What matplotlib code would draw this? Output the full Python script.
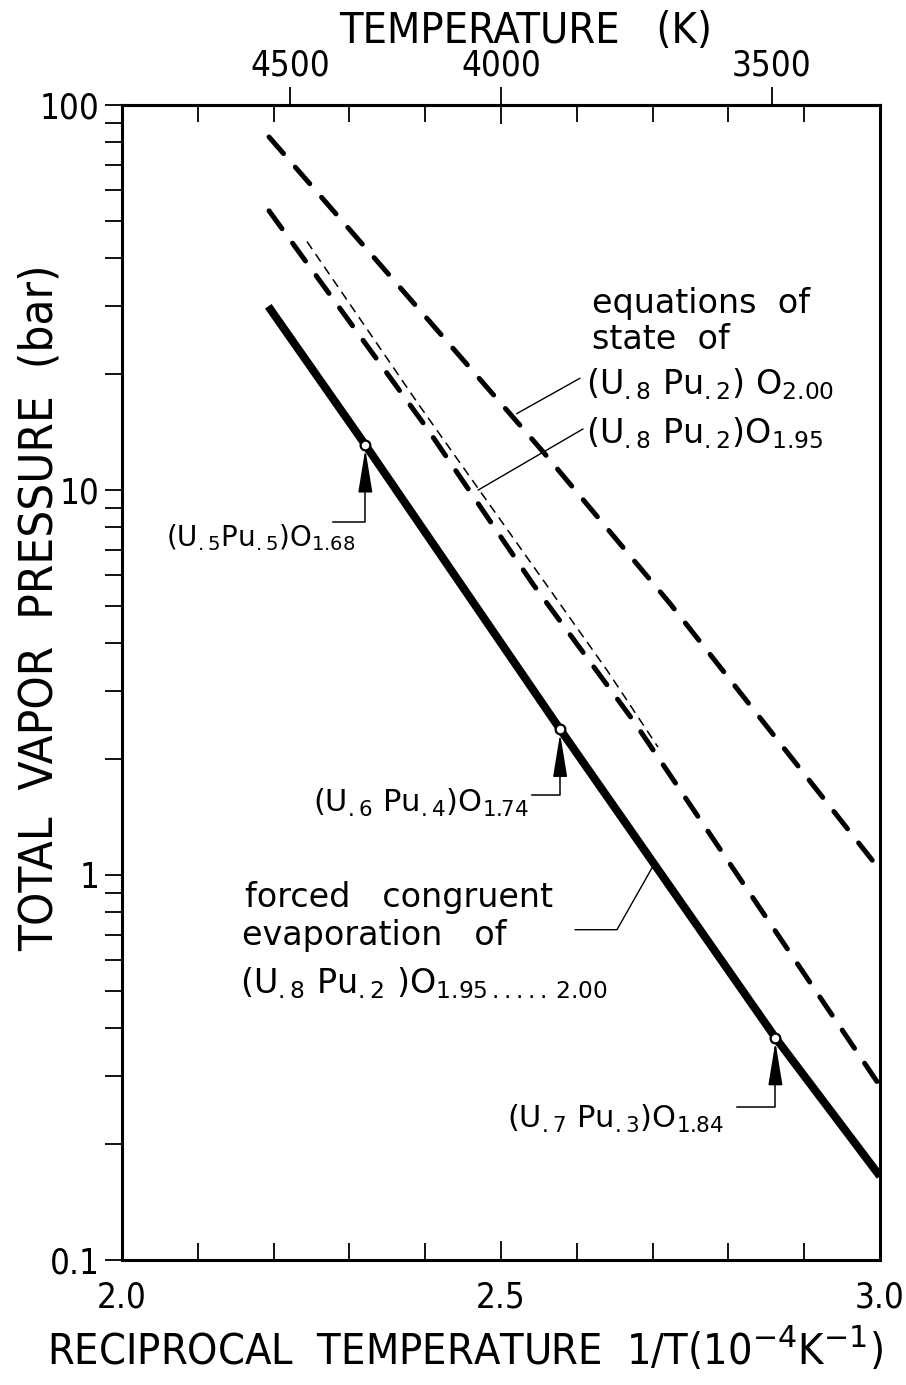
import matplotlib
matplotlib.use("Agg")
import matplotlib.pyplot as plt
from matplotlib.ticker import FixedLocator, LogLocator, NullFormatter

plt.rcParams['mathtext.fontset'] = 'dejavusans'
plt.rcParams['font.family'] = ['DejaVu Sans']

# reciprocal temperature (1e-4 1/K) and total vapour pressure (bar)
x_forced = [2.193, 2.321, 2.578, 2.862, 3.0]
p_forced = [30.0, 13.1, 2.39, 0.378, 0.165]
x_eos200 = [2.194, 2.555, 2.723, 3.0]
p_eos200 = [82.6, 12.6, 5.07, 1.03]
x_eos195 = [2.194, 2.402, 2.542, 2.675, 3.0]
p_eos195 = [53.1, 14.5, 5.70, 2.51, 0.283]
x_thin = [2.244, 2.393, 2.640, 2.707]
p_thin = [44.2, 16.5, 3.40, 2.15]

# labelled compositions on the forced congruent curve (index into x_forced)
point_idx = [1, 2, 3]
point_labels = [r'(U$_{.5}$Pu$_{.5}$)O$_{1.68}$',
                r'(U$_{.6}$ Pu$_{.4}$)O$_{1.74}$',
                r'(U$_{.7}$ Pu$_{.3}$)O$_{1.84}$']

y_ticks = [0.1, 1, 10, 100]
y_ticklabels = ['0.1', '1', '10', '100']
x_ticks = [2.0, 2.5, 3.0]
x_ticklabels = ['2.0', '2.5', '3.0']
t_ticks = [4500, 4000, 3500]

cond = dict(family='DejaVu Sans', stretch='condensed')

fig = plt.figure(figsize=(9.06, 13.85), dpi=100)
ax = fig.add_axes([122/906, 1 - 1260/1385, 758/906, 1155/1385])

ax.plot(x_forced, p_forced, color='black', lw=5.8, solid_capstyle='butt')
ax.plot(x_eos200, p_eos200, color='black', lw=3.6, dashes=(4.4, 3.6), dash_capstyle='round')
ax.plot(x_eos195, p_eos195, color='black', lw=3.6, dashes=(4.4, 3.6), dash_capstyle='round')
ax.plot(x_thin, p_thin, color='black', lw=1.1, dashes=(6, 4))

xm = [x_forced[i] for i in point_idx]
pm = [p_forced[i] for i in point_idx]
ax.plot(xm, pm, 'o', ms=7, mfc='white', mec='black', mew=1.6, zorder=5)

ax.set_yscale('log')
ax.set_xlim(2.0, 3.0)
ax.set_ylim(0.1, 100)

# arrows + leader lines to the labelled points
arrow_base = [10.2, 1.87, 0.291]
corner_p = [8.26, 1.61, 0.249]
corner_x = [2.278, 2.541, 2.811]
text_x = [2.307, 2.537, 2.794]
text_p = [7.16, 1.46, 0.221]
text_size = [20, 22, 22]
for k in range(3):
    ax.annotate('', xy=(xm[k], pm[k]), xytext=(xm[k], arrow_base[k]),
                arrowprops=dict(arrowstyle='-|>,head_length=1.35,head_width=0.22',
                                color='black', lw=1.2, shrinkA=0, shrinkB=3,
                                mutation_scale=20))
    ax.plot([corner_x[k], xm[k], xm[k]], [corner_p[k], corner_p[k], arrow_base[k]],
            color='black', lw=1.1)
    ax.text(text_x[k], text_p[k], point_labels[k], fontsize=text_size[k],
            ha='right', va='baseline')

# equations of state labels
ax.text(2.620, 28.8, 'equations  of', fontsize=24, va='baseline')
ax.text(2.620, 23.2, 'state  of', fontsize=24, va='baseline')
ax.text(2.612, 17.7, r'(U$_{.8}$ Pu$_{.2}$) O$_{2.00}$', fontsize=24, va='baseline')
ax.text(2.612, 13.2, r'(U$_{.8}$ Pu$_{.2}$)O$_{1.95}$', fontsize=24, va='baseline')
ax.plot([2.521, 2.604], [15.8, 19.5], color='black', lw=1.0)
ax.plot([2.470, 2.608], [10.0, 14.4], color='black', lw=1.0)

# forced congruent evaporation label
ax.text(2.162, 0.826, 'forced   congruent', fontsize=24, va='baseline')
ax.text(2.158, 0.659, 'evaporation   of', fontsize=24, va='baseline')
ax.text(2.156, 0.494, r'(U$_{.8}$ Pu$_{.2}$ )O$_{1.95\,.....\,2.00}$', fontsize=24, va='baseline')
ax.plot([2.598, 2.653, 2.700], [0.721, 0.721, 1.05], color='black', lw=1.0)

# axes styling
for s in ax.spines.values():
    s.set_linewidth(2.2)

ax.yaxis.set_major_locator(FixedLocator(y_ticks))
ax.set_yticklabels(y_ticklabels, fontsize=25, **cond)
ax.yaxis.set_minor_locator(LogLocator(base=10, subs=range(2, 10)))
ax.yaxis.set_minor_formatter(NullFormatter())
ax.tick_params(axis='y', which='both', direction='out', length=12, width=1.3,
               left=True, right=False, pad=4)

ax.xaxis.set_major_locator(FixedLocator(x_ticks))
ax.set_xticklabels(x_ticklabels, fontsize=25, **cond)
ax.xaxis.set_minor_locator(FixedLocator([2.1, 2.2, 2.3, 2.4, 2.6, 2.7, 2.8, 2.9]))
ax.tick_params(axis='x', which='major', direction='in', length=14, width=1.3,
               top=True, bottom=True, pad=15)
ax.tick_params(axis='x', which='minor', direction='in', length=12, width=1.3,
               top=True, bottom=True)

sec = ax.secondary_xaxis('top', functions=(lambda x: 1e4 / x, lambda t: 1e4 / t))
sec.set_xticks(t_ticks)
sec.set_xticklabels([str(t) for t in t_ticks], fontsize=25, **cond)
sec.tick_params(axis='x', which='major', direction='out', length=13, width=1.3, pad=3)
sec.tick_params(axis='x', which='minor', length=0)
sec.spines['top'].set_linewidth(2.2)

ax.set_ylabel('TOTAL  VAPOR  PRESSURE  (bar)', fontsize=34, **cond)
ax.yaxis.set_label_coords(-0.108, 0.565)
ax.yaxis.label.set_va('center')
ax.set_xlabel(r'RECIPROCAL  TEMPERATURE  1/T(10$^{-4}$K$^{-1}$)', fontsize=31, **cond)
ax.xaxis.set_label_coords(0.453, -0.078)
ax.xaxis.label.set_va('center')
ax.text(0.532, 1.064, 'TEMPERATURE   (K)', transform=ax.transAxes, fontsize=31,
        ha='center', va='center', **cond)

fig.savefig('out.png', dpi=100)
